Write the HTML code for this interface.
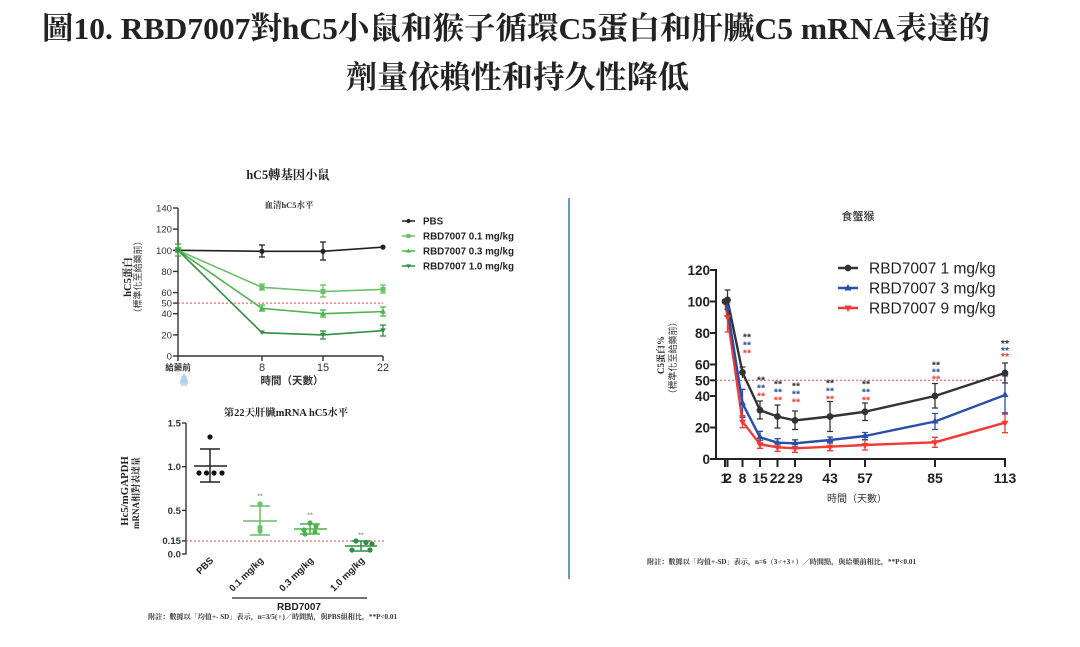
<!DOCTYPE html>
<html><head><meta charset="utf-8"><style>
html,body{margin:0;padding:0;background:#fff;}
svg{display:block;}
.ser{font-family:"Liberation Serif","Noto Serif CJK SC",serif;}
.san{font-family:"Liberation Sans","Noto Sans CJK TC",sans-serif;}
</style></head><body>
<svg width="1080" height="647" viewBox="0 0 1080 647" xmlns="http://www.w3.org/2000/svg">
<rect width="1080" height="647" fill="#fff"/>
<!-- Title -->
<text class="ser" x="42" y="39" font-size="31" font-weight="bold" fill="#222" textLength="948" lengthAdjust="spacingAndGlyphs">圖10. RBD7007對hC5小鼠和猴子循環C5蛋白和肝臟C5 mRNA表達的</text>
<text class="ser" x="346" y="88" font-size="31" font-weight="bold" fill="#222" textLength="343" lengthAdjust="spacingAndGlyphs">劑量依賴性和持久性降低</text>

<!-- Divider -->
<line x1="569" y1="198" x2="569" y2="579" stroke="#3f86a8" stroke-width="1.6"/>

<!-- ============ LEFT TOP CHART ============ -->
<text class="ser" x="288" y="179" font-size="12.3" font-weight="bold" fill="#222" text-anchor="middle">hC5轉基因小鼠</text>
<text class="ser" x="289" y="208" font-size="8.5" font-weight="bold" fill="#333" text-anchor="middle">血清hC5水平</text>
<text class="ser" transform="translate(131,277) rotate(-90)" font-size="10.5" font-weight="bold" fill="#222" text-anchor="middle">hC5蛋白</text>
<text class="san" transform="translate(141,277) rotate(-90)" font-size="9" fill="#333" text-anchor="middle">（標準化至給藥前）</text>
<g stroke="#333" stroke-width="1.4" fill="none">
<line x1="178" y1="208" x2="178" y2="357"/>
<line x1="178" y1="356" x2="383" y2="356"/>
<line x1="173" y1="208" x2="178" y2="208"/>
<line x1="173" y1="229.1" x2="178" y2="229.1"/>
<line x1="173" y1="250.3" x2="178" y2="250.3"/>
<line x1="173" y1="271.4" x2="178" y2="271.4"/>
<line x1="173" y1="292.6" x2="178" y2="292.6"/>
<line x1="173" y1="303.1" x2="178" y2="303.1"/>
<line x1="173" y1="313.7" x2="178" y2="313.7"/>
<line x1="173" y1="334.9" x2="178" y2="334.9"/>
<line x1="173" y1="356" x2="178" y2="356"/>
<line x1="178" y1="356" x2="178" y2="361"/>
<line x1="262" y1="356" x2="262" y2="361"/>
<line x1="323" y1="356" x2="323" y2="361"/>
<line x1="383" y1="356" x2="383" y2="361"/>
</g>
<g class="san" font-size="9.6" fill="#333" text-anchor="end">
<text x="172" y="211.5">140</text>
<text x="172" y="232.6">120</text>
<text x="172" y="253.8">100</text>
<text x="172" y="274.9">80</text>
<text x="172" y="296.1">60</text>
<text x="172" y="306.6">50</text>
<text x="172" y="317.2">40</text>
<text x="172" y="338.4">20</text>
<text x="172" y="359.5">0</text>
</g>
<text class="san" x="178" y="370.5" font-size="8.5" font-weight="bold" fill="#333" text-anchor="middle">給藥前</text>
<g class="san" font-size="11" fill="#333" text-anchor="middle">
<text x="262" y="371">8</text>
<text x="323" y="371">15</text>
<text x="383" y="371">22</text>
</g>
<path d="M184,373 C181,378 180,380 180,382 A4,4 0 0 0 188,382 C188,380 187,378 184,373 Z" fill="#a9d4ec"/>
<rect x="181" y="383" width="6" height="3" fill="#d8d8d8"/>
<text class="san" x="292" y="384" font-size="10.5" font-weight="bold" fill="#333" text-anchor="middle">時間（天數）</text>
<line x1="178" y1="303.1" x2="383" y2="303.1" stroke="#e8474a" stroke-width="1" stroke-dasharray="2,2"/>
<g stroke-width="1.3" fill="none">
<g stroke="#3aa24a"><line x1="178" y1="244" x2="178" y2="256"/><line x1="175" y1="244" x2="181" y2="244"/><line x1="175" y1="256" x2="181" y2="256"/></g>
<g stroke="#222">
<line x1="262" y1="245" x2="262" y2="257"/><line x1="259" y1="245" x2="265" y2="245"/><line x1="259" y1="257" x2="265" y2="257"/>
<line x1="323" y1="242" x2="323" y2="260"/><line x1="320" y1="242" x2="326" y2="242"/><line x1="320" y1="260" x2="326" y2="260"/>
</g>
<g stroke="#6abf69">
<line x1="262" y1="284" x2="262" y2="290"/><line x1="259" y1="284" x2="265" y2="284"/><line x1="259" y1="290" x2="265" y2="290"/>
<line x1="323" y1="285" x2="323" y2="297"/><line x1="320" y1="285" x2="326" y2="285"/><line x1="320" y1="297" x2="326" y2="297"/>
<line x1="383" y1="285" x2="383" y2="293"/><line x1="380" y1="285" x2="386" y2="285"/><line x1="380" y1="293" x2="386" y2="293"/>
</g>
<g stroke="#4cb34e">
<line x1="262" y1="305" x2="262" y2="311"/><line x1="259" y1="305" x2="265" y2="305"/><line x1="259" y1="311" x2="265" y2="311"/>
<line x1="323" y1="310" x2="323" y2="317"/><line x1="320" y1="310" x2="326" y2="310"/><line x1="320" y1="317" x2="326" y2="317"/>
<line x1="383" y1="307" x2="383" y2="316"/><line x1="380" y1="307" x2="386" y2="307"/><line x1="380" y1="316" x2="386" y2="316"/>
</g>
<g stroke="#2f8f45">
<line x1="323" y1="331" x2="323" y2="339"/><line x1="320" y1="331" x2="326" y2="331"/><line x1="320" y1="339" x2="326" y2="339"/>
<line x1="383" y1="325" x2="383" y2="336"/><line x1="380" y1="325" x2="386" y2="325"/><line x1="380" y1="336" x2="386" y2="336"/>
</g>
</g>
<g fill="none" stroke-width="1.6">
<polyline stroke="#222" points="178,250.3 262,251.3 323,251.3 383,247.1"/>
<polyline stroke="#6abf69" points="178,250.3 262,287.3 323,291.5 383,289.4"/>
<polyline stroke="#4cb34e" points="178,250.3 262,308.4 323,313.7 383,311.6"/>
<polyline stroke="#2f8f45" points="178,250.3 262,332.7 323,334.9 383,330.6"/>
</g>
<g fill="#222"><circle cx="262" cy="251.3" r="2.6"/><circle cx="323" cy="251.3" r="2.6"/><circle cx="383" cy="247.1" r="2.6"/></g>
<g fill="#6abf69"><rect x="259.5" y="284.8" width="5" height="5"/><rect x="320.5" y="289" width="5" height="5"/><rect x="380.5" y="286.9" width="5" height="5"/></g>
<g fill="#4cb34e"><polygon points="262,305.4 259,310.4 265,310.4"/><polygon points="323,310.7 320,315.7 326,315.7"/><polygon points="383,308.6 380,313.6 386,313.6"/></g>
<g fill="#2f8f45"><polygon points="262,335 259,330.5 265,330.5"/><polygon points="323,337.2 320,332.7 326,332.7"/><polygon points="383,332.9 380,328.4 386,328.4"/></g>
<rect x="175" y="247" width="6" height="6" fill="#4cb34e"/>
<circle cx="178" cy="250.3" r="2.3" fill="#3b8f3e"/>
<g stroke-width="1.5">
<line x1="402" y1="221" x2="415" y2="221" stroke="#222"/><circle cx="408.5" cy="221" r="2.1" fill="#222"/>
<line x1="402" y1="236" x2="415" y2="236" stroke="#6abf69"/><rect x="406.5" y="234" width="4" height="4" fill="#6abf69"/>
<line x1="402" y1="251" x2="415" y2="251" stroke="#4cb34e"/><polygon points="408.5,248.6 406,252.6 411,252.6" fill="#4cb34e"/>
<line x1="402" y1="266" x2="415" y2="266" stroke="#2f8f45"/><polygon points="408.5,268.4 406,264.4 411,264.4" fill="#2f8f45"/>
</g>
<g class="san" font-size="9.8" font-weight="bold" fill="#222">
<text x="423" y="224.5">PBS</text>
<text x="423" y="239.5">RBD7007 0.1 mg/kg</text>
<text x="423" y="254.5">RBD7007 0.3 mg/kg</text>
<text x="423" y="269.5">RBD7007 1.0 mg/kg</text>
</g>

<!-- ============ LEFT BOTTOM CHART ============ -->
<text class="ser" x="286" y="416" font-size="10.4" font-weight="bold" fill="#222" text-anchor="middle">第22天肝臟mRNA hC5水平</text>
<text class="ser" transform="translate(128,491) rotate(-90)" font-size="10.8" font-weight="bold" fill="#222" text-anchor="middle">Hc5/mGAPDH</text>
<text class="ser" transform="translate(139,493) rotate(-90)" font-size="9" font-weight="bold" fill="#222" text-anchor="middle">mRNA相對表達量</text>
<g stroke="#333" stroke-width="1.4">
<line x1="186" y1="423" x2="186" y2="554.5"/>
<line x1="182" y1="423" x2="186" y2="423"/>
<line x1="182" y1="466.7" x2="186" y2="466.7"/>
<line x1="182" y1="510.4" x2="186" y2="510.4"/>
<line x1="182" y1="540.9" x2="186" y2="540.9"/>
<line x1="182" y1="554" x2="186" y2="554"/>
</g>
<g class="san" font-size="9.6" font-weight="bold" fill="#333" text-anchor="end">
<text x="181" y="426.5">1.5</text>
<text x="181" y="470.2">1.0</text>
<text x="181" y="513.9">0.5</text>
<text x="181" y="544">0.15</text>
<text x="181" y="557.5">0.0</text>
</g>
<line x1="186" y1="541" x2="386" y2="541" stroke="#e8474a" stroke-width="1" stroke-dasharray="2,2"/>
<g stroke="#222" stroke-width="1.5">
<line x1="194" y1="466" x2="227" y2="466"/>
<line x1="210" y1="449" x2="210" y2="482"/>
<line x1="200" y1="449" x2="220" y2="449"/>
<line x1="200" y1="482" x2="220" y2="482"/>
</g>
<g fill="#111"><circle cx="210" cy="437" r="2.6"/><circle cx="199" cy="473" r="2.6"/><circle cx="206.5" cy="473" r="2.6"/><circle cx="214" cy="473" r="2.6"/><circle cx="222" cy="473" r="2.6"/></g>
<g stroke="#6abf69" stroke-width="1.5">
<line x1="243" y1="521" x2="277" y2="521"/>
<line x1="260" y1="506" x2="260" y2="535"/>
<line x1="250" y1="506" x2="270" y2="506"/>
<line x1="250" y1="535" x2="270" y2="535"/>
</g>
<g fill="#6abf69"><circle cx="260" cy="504" r="2.6"/><circle cx="260" cy="527.5" r="2.6"/><circle cx="260" cy="531" r="2.6"/></g>
<g stroke="#4cb34e" stroke-width="1.5">
<line x1="294" y1="529" x2="327" y2="529"/>
<line x1="310" y1="524" x2="310" y2="534"/>
<line x1="300" y1="524" x2="320" y2="524"/>
<line x1="300" y1="534" x2="320" y2="534"/>
</g>
<g fill="#4cb34e"><circle cx="310" cy="523" r="2.6"/><circle cx="304" cy="530" r="2.6"/><circle cx="316" cy="526" r="2.6"/><circle cx="305" cy="534" r="2.6"/><circle cx="315" cy="532" r="2.6"/></g>
<g stroke="#2f8f45" stroke-width="1.5">
<line x1="345" y1="546" x2="377" y2="546"/>
<line x1="361" y1="541" x2="361" y2="551"/>
<line x1="352" y1="541" x2="370" y2="541"/>
<line x1="352" y1="551" x2="370" y2="551"/>
</g>
<g fill="#2f8f45"><circle cx="356" cy="541" r="2.6"/><circle cx="366" cy="542.5" r="2.6"/><circle cx="372" cy="544" r="2.6"/><circle cx="352" cy="550" r="2.6"/><circle cx="370" cy="550" r="2.6"/></g>
<g class="san" font-size="7.5" fill="#777" text-anchor="middle">
<text x="260" y="498.5">**</text>
<text x="310" y="517.5">**</text>
<text x="361" y="537.5">**</text>
</g>
<g class="san" font-size="9.5" font-weight="bold" fill="#222" text-anchor="end">
<text transform="translate(214,561) rotate(-45)">PBS</text>
<text transform="translate(264,561) rotate(-45)">0.1 mg/kg</text>
<text transform="translate(314,561) rotate(-45)">0.3 mg/kg</text>
<text transform="translate(365,561) rotate(-45)">1.0 mg/kg</text>
</g>
<line x1="232" y1="598" x2="367" y2="598" stroke="#222" stroke-width="1.2"/>
<text class="san" x="299" y="610" font-size="10" font-weight="bold" fill="#222" text-anchor="middle">RBD7007</text>
<text class="ser" x="148" y="619" font-size="7" font-weight="bold" fill="#333" textLength="249" lengthAdjust="spacingAndGlyphs">附註：數據以「均值+- SD」表示，n=3/5(♀)／時間點，與PBS組相比，**P&lt;0.01</text>

<!-- ============ RIGHT CHART ============ -->
<text class="san" x="858" y="220" font-size="11" font-weight="500" fill="#333" text-anchor="middle">食蟹猴</text>
<text class="ser" transform="translate(664,355) rotate(-90)" font-size="9" font-weight="bold" fill="#222" text-anchor="middle">C5蛋白%</text>
<text class="san" transform="translate(676,358) rotate(-90)" font-size="9" fill="#333" text-anchor="middle">（標準化至給藥前）</text>
<g stroke="#222" stroke-width="2">
<line x1="716" y1="269" x2="716" y2="460"/>
<line x1="715" y1="459" x2="1006" y2="459"/>
<line x1="710" y1="270" x2="716" y2="270"/>
<line x1="710" y1="301.5" x2="716" y2="301.5"/>
<line x1="710" y1="333" x2="716" y2="333"/>
<line x1="710" y1="364.5" x2="716" y2="364.5"/>
<line x1="710" y1="380.3" x2="716" y2="380.3"/>
<line x1="710" y1="396" x2="716" y2="396"/>
<line x1="710" y1="427.5" x2="716" y2="427.5"/>
<line x1="710" y1="459" x2="716" y2="459"/>
<line x1="725" y1="459" x2="725" y2="467"/>
<line x1="727.5" y1="459" x2="727.5" y2="467"/>
<line x1="742.5" y1="459" x2="742.5" y2="467"/>
<line x1="760" y1="459" x2="760" y2="467"/>
<line x1="777.5" y1="459" x2="777.5" y2="467"/>
<line x1="795" y1="459" x2="795" y2="467"/>
<line x1="830" y1="459" x2="830" y2="467"/>
<line x1="865" y1="459" x2="865" y2="467"/>
<line x1="935" y1="459" x2="935" y2="467"/>
<line x1="1005" y1="459" x2="1005" y2="467"/>
</g>
<g class="san" font-size="13.5" font-weight="bold" fill="#222" text-anchor="end">
<text x="710" y="275">120</text>
<text x="710" y="306.5">100</text>
<text x="710" y="338">80</text>
<text x="710" y="369.5">60</text>
<text x="710" y="385.3">50</text>
<text x="710" y="401">40</text>
<text x="710" y="432.5">20</text>
<text x="710" y="464">0</text>
</g>
<g class="san" font-size="14" font-weight="bold" fill="#222" text-anchor="middle">
<text x="724.5" y="483">1</text>
<text x="728" y="483">2</text>
<text x="742.5" y="483">8</text>
<text x="760" y="483">15</text>
<text x="777.5" y="483">22</text>
<text x="795" y="483">29</text>
<text x="830" y="483">43</text>
<text x="865" y="483">57</text>
<text x="935" y="483">85</text>
<text x="1005" y="483">113</text>
</g>
<text class="san" x="857" y="502" font-size="10" fill="#333" text-anchor="middle">時間（天數）</text>
<line x1="716" y1="380.3" x2="1005" y2="380.3" stroke="#e8474a" stroke-width="1" stroke-dasharray="2,2"/>
<g stroke-width="1.3" fill="none">
<g stroke="#f03a36">
<path d="M727.5,302V332M724.5,302h6M724.5,332h6"/>
<path d="M742.5,415.7V427.7M739.5,415.7h6M739.5,427.7h6"/>
<path d="M760,440.3V448.3M757,440.3h6M757,448.3h6"/>
<path d="M777.5,443.3V451.3M774.5,443.3h6M774.5,451.3h6"/>
<path d="M795,444.3V452.3M792,444.3h6M792,452.3h6"/>
<path d="M830,442.7V450.7M827,442.7h6M827,450.7h6"/>
<path d="M865,440V450M862,440h6M862,450h6"/>
<path d="M935,437.3V447.3M932,437.3h6M932,447.3h6"/>
<path d="M1005,412.7V432.7M1002,412.7h6M1002,432.7h6"/>
</g>
<g stroke="#2a4fa8">
<path d="M727.5,300V316M724.5,300h6M724.5,316h6"/>
<path d="M742.5,389.3V417.3M739.5,389.3h6M739.5,417.3h6"/>
<path d="M760,431.3V443.3M757,431.3h6M757,443.3h6"/>
<path d="M777.5,438.7V446.7M774.5,438.7h6M774.5,446.7h6"/>
<path d="M795,439.8V446.8M792,439.8h6M792,446.8h6"/>
<path d="M830,437V443M827,437h6M827,443h6"/>
<path d="M865,432.5V439.5M862,432.5h6M862,439.5h6"/>
<path d="M935,413.5V429.5M932,413.5h6M932,429.5h6"/>
<path d="M1005,376V414M1002,376h6M1002,414h6"/>
</g>
<g stroke="#333">
<path d="M727.5,290V310M724.5,290h6"/>
<path d="M742.5,367V378M739.5,367h6"/>
<path d="M760,401V419M757,401h6M757,419h6"/>
<path d="M777.5,405V428M774.5,405h6M774.5,428h6"/>
<path d="M795,411V429.5M792,411h6M792,429.5h6"/>
<path d="M830,401.5V431.5M827,401.5h6M827,431.5h6"/>
<path d="M865,403V420.5M862,403h6M862,420.5h6"/>
<path d="M935,383.5V408M932,383.5h6M932,408h6"/>
<path d="M1005,363V383M1002,363h6M1002,383h6"/>
</g>
</g>
<g fill="none" stroke-width="2.4" stroke-linejoin="round">
<polyline stroke="#f03a36" points="725,301.5 727.5,317 742.5,421.7 760,444.3 777.5,447.3 795,448.3 830,446.7 865,445 935,442.3 1005,422.7"/>
<polyline stroke="#2a4fa8" points="725,301.5 727.5,308 742.5,403.3 760,437.3 777.5,442.7 795,443.3 830,440 865,436 935,421.5 1005,395"/>
<polyline stroke="#333" points="725,301.5 727.5,299.9 742.5,372.4 760,410.2 777.5,416.5 795,420.4 830,416.5 865,411.75 935,396 1005,373"/>
</g>
<g fill="#f03a36">
<polygon points="727.5,321 724,315 731,315"/><polygon points="742.5,425.7 739,419.7 746,419.7"/><polygon points="760,448.3 756.5,442.3 763.5,442.3"/><polygon points="777.5,451.3 774,445.3 781,445.3"/><polygon points="795,452.3 791.5,446.3 798.5,446.3"/><polygon points="830,450.7 826.5,444.7 833.5,444.7"/><polygon points="865,449 861.5,443 868.5,443"/><polygon points="935,446.3 931.5,440.3 938.5,440.3"/><polygon points="1005,426.7 1001.5,420.7 1008.5,420.7"/>
</g>
<g fill="#2a4fa8">
<polygon points="727.5,304 724,310 731,310"/><polygon points="742.5,399.3 739,405.3 746,405.3"/><polygon points="760,433.3 756.5,439.3 763.5,439.3"/><polygon points="777.5,438.7 774,444.7 781,444.7"/><polygon points="795,439.3 791.5,445.3 798.5,445.3"/><polygon points="830,436 826.5,442 833.5,442"/><polygon points="865,432 861.5,438 868.5,438"/><polygon points="935,417.5 931.5,423.5 938.5,423.5"/><polygon points="1005,391 1001.5,397 1008.5,397"/>
</g>
<g fill="#333">
<circle cx="725" cy="301.5" r="3.4"/><circle cx="727.5" cy="299.9" r="3.4"/><circle cx="742.5" cy="372.4" r="3.4"/><circle cx="760" cy="410.2" r="3.4"/><circle cx="777.5" cy="416.5" r="3.4"/><circle cx="795" cy="420.4" r="3.4"/><circle cx="830" cy="416.5" r="3.4"/><circle cx="865" cy="411.75" r="3.4"/><circle cx="935" cy="396" r="3.4"/><circle cx="1005" cy="373" r="3.4"/>
</g>
<g class="san" font-size="10.5" font-weight="bold" text-anchor="middle">
<g fill="#333"><text x="747" y="340.5">**</text><text x="761" y="383.5">**</text><text x="778" y="387.5">**</text><text x="796" y="389.5">**</text><text x="830" y="386.5">**</text><text x="866" y="387.5">**</text><text x="936" y="368.5">**</text><text x="1005" y="347">**</text></g>
<g fill="#2a4fa8"><text x="747" y="348.5">**</text><text x="761" y="391.5">**</text><text x="778" y="395.5">**</text><text x="796" y="397.5">**</text><text x="830" y="394.5">**</text><text x="866" y="395.5">**</text><text x="936" y="375.5">**</text><text x="1005" y="354">**</text></g>
<g fill="#f03a36"><text x="747" y="356.5">**</text><text x="761" y="399.5">**</text><text x="778" y="403.5">**</text><text x="796" y="405.5">**</text><text x="830" y="402.5">**</text><text x="866" y="403.5">**</text><text x="936" y="382.5">**</text><text x="1005" y="360">**</text></g>
</g>
<g stroke-width="2.4">
<line x1="838" y1="268" x2="858" y2="268" stroke="#333"/><circle cx="848" cy="268" r="3.4" fill="#333"/>
<line x1="838" y1="288" x2="858" y2="288" stroke="#2a4fa8"/><polygon points="848,284 844.5,290.5 851.5,290.5" fill="#2a4fa8"/>
<line x1="838" y1="308" x2="858" y2="308" stroke="#f03a36"/><polygon points="848,312 844.5,305.5 851.5,305.5" fill="#f03a36"/>
</g>
<g class="san" font-size="15.5" fill="#222">
<text x="869" y="273.5">RBD7007 1 mg/kg</text>
<text x="869" y="293.5">RBD7007 3 mg/kg</text>
<text x="869" y="313.5">RBD7007 9 mg/kg</text>
</g>
<text class="ser" x="647" y="564" font-size="7" font-weight="bold" fill="#333" textLength="269" lengthAdjust="spacingAndGlyphs">附註：數據以「均值+-SD」表示，n=6（3♂+3♀）／時間點，與給藥前相比，**P&lt;0.01</text>
</svg>
</body></html>
